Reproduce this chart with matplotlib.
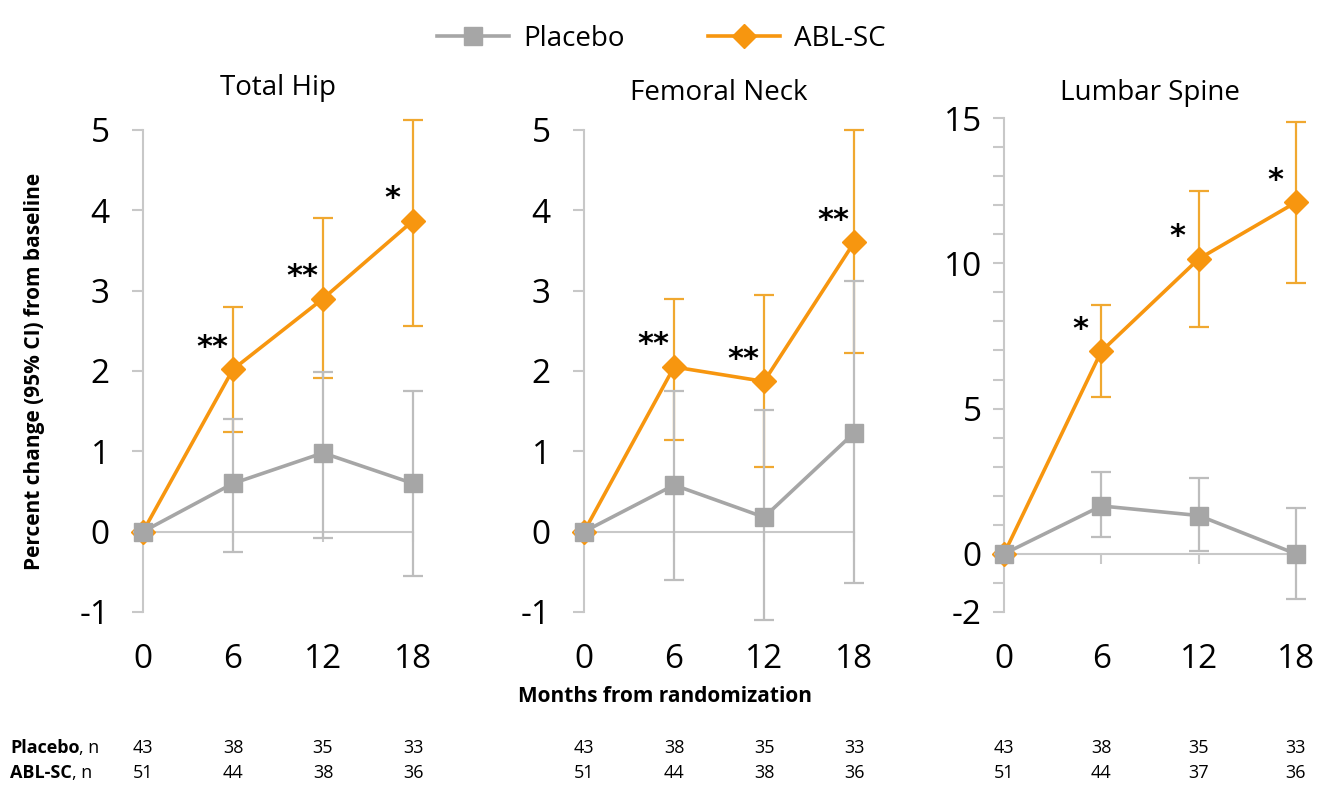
"""
Percent change in BMD from baseline: Placebo vs ABL-SC, three sites.
"""
import numpy as np
import matplotlib
matplotlib.use('Agg')
import matplotlib.pyplot as plt
from matplotlib.ticker import FixedLocator, MultipleLocator
from matplotlib.transforms import blended_transform_factory

plt.rcParams['font.family'] = ['Open Sans', 'DejaVu Sans']
plt.rcParams['axes.unicode_minus'] = False

# =============================================================================
# Data
# =============================================================================
months = [0, 6, 12, 18]
sites = ['Total Hip', 'Femoral Neck', 'Lumbar Spine']

# Placebo: mean, lower CI, upper CI
placebo_hip = [0.0, 0.60, 0.98, 0.60]
placebo_hip_lo = [0.0, -0.25, -0.08, -0.55]
placebo_hip_hi = [0.0, 1.40, 1.99, 1.75]
placebo_neck = [0.0, 0.58, 0.18, 1.23]
placebo_neck_lo = [0.0, -0.60, -1.10, -0.64]
placebo_neck_hi = [0.0, 1.75, 1.51, 3.12]
placebo_spine = [0.0, 1.65, 1.32, 0.0]
placebo_spine_lo = [0.0, 0.57, 0.11, -1.55]
placebo_spine_hi = [0.0, 2.81, 2.62, 1.59]

# ABL-SC: mean, lower CI, upper CI
abl_hip = [0.0, 2.02, 2.90, 3.87]
abl_hip_lo = [0.0, 1.24, 1.91, 2.56]
abl_hip_hi = [0.0, 2.80, 3.90, 5.12]
abl_neck = [0.0, 2.05, 1.87, 3.60]
abl_neck_lo = [0.0, 1.14, 0.80, 2.23]
abl_neck_hi = [0.0, 2.90, 2.95, 5.00]
abl_spine = [0.0, 6.97, 10.15, 12.10]
abl_spine_lo = [0.0, 5.39, 7.81, 9.31]
abl_spine_hi = [0.0, 8.56, 12.48, 14.86]

# significance stars above ABL-SC points
stars_hip = ['', '**', '**', '*']
stars_neck = ['', '**', '**', '**']
stars_spine = ['', '*', '*', '*']

# numbers at risk
n_placebo_hip = [43, 38, 35, 33]
n_abl_hip = [51, 44, 38, 36]
n_placebo_neck = [43, 38, 35, 33]
n_abl_neck = [51, 44, 38, 36]
n_placebo_spine = [43, 38, 35, 33]
n_abl_spine = [51, 44, 37, 36]

# =============================================================================
# Style
# =============================================================================
ORANGE = '#F7960F'
ORANGE_ERR = '#F0A830'
GRAY = '#A6A6A6'
GRAY_ERR = '#BDBDBD'
AXIS_GRAY = '#C8C8C8'
TABLE_FONT = ['Liberation Sans Narrow', 'Open Sans']

fig = plt.figure(figsize=(13.31, 7.91), dpi=100)

panels = [
    dict(pos=[0.1074, 0.2263, 0.2029, 0.6094], ylim=(-1, 5), yticks=[-1, 0, 1, 2, 3, 4, 5],
         minor=None, title_y=0.889, pad=16,
         pl=(placebo_hip, placebo_hip_lo, placebo_hip_hi),
         ab=(abl_hip, abl_hip_lo, abl_hip_hi), stars=stars_hip,
         n=(n_placebo_hip, n_abl_hip)),
    dict(pos=[0.4388, 0.2263, 0.2029, 0.6094], ylim=(-1, 5), yticks=[-1, 0, 1, 2, 3, 4, 5],
         minor=None, title_y=0.882, pad=16,
         pl=(placebo_neck, placebo_neck_lo, placebo_neck_hi),
         ab=(abl_neck, abl_neck_lo, abl_neck_hi), stars=stars_neck,
         n=(n_placebo_neck, n_abl_neck)),
    dict(pos=[0.7543, 0.2263, 0.2194, 0.6245], ylim=(-2, 15), yticks=[-2, 0, 5, 10, 15],
         minor=1, title_y=0.882, pad=8,
         pl=(placebo_spine, placebo_spine_lo, placebo_spine_hi),
         ab=(abl_spine, abl_spine_lo, abl_spine_hi), stars=stars_spine,
         n=(n_placebo_spine, n_abl_spine)),
]

handles = []
for site, p in zip(sites, panels):
    ax = fig.add_axes(p['pos'])
    ax.set_xlim(0, 18)
    ax.set_ylim(*p['ylim'])

    # ABL-SC first, placebo drawn on top
    m, lo, hi = (np.array(v) for v in p['ab'])
    h_abl = ax.errorbar(months, m, yerr=[m - lo, hi - m], color=ORANGE, lw=2.6,
                        marker='D', ms=12, mec=ORANGE, mfc=ORANGE,
                        ecolor=ORANGE_ERR, elinewidth=1.6, capsize=7, capthick=1.6,
                        clip_on=False, zorder=3, label='ABL-SC')
    m, lo, hi = (np.array(v) for v in p['pl'])
    h_pl = ax.errorbar(months, m, yerr=[m - lo, hi - m], color=GRAY, lw=2.6,
                       marker='s', ms=13, mec=GRAY, mfc=GRAY,
                       ecolor=GRAY_ERR, elinewidth=1.6, capsize=7, capthick=1.6,
                       clip_on=False, zorder=4, label='Placebo')
    for c in list(h_abl[1]) + list(h_abl[2]) + list(h_pl[1]) + list(h_pl[2]):
        c.set_clip_on(False)
    if not handles:
        handles = [h_pl[0], h_abl[0]]

    # stars
    for x, v, s in zip(months, p['ab'][0], p['stars']):
        if s:
            ax.annotate(s, (x, v), xytext=(-15, 16), textcoords='offset points',
                        ha='center', va='center', fontsize=22, fontweight='bold',
                        color='black', family='DejaVu Sans')

    # spines: y axis on left, x axis line at zero
    ax.spines['top'].set_visible(False)
    ax.spines['right'].set_visible(False)
    ax.spines['left'].set_color(AXIS_GRAY)
    ax.spines['left'].set_linewidth(1.5)
    ax.spines['bottom'].set_position(('data', 0))
    ax.spines['bottom'].set_color(AXIS_GRAY)
    ax.spines['bottom'].set_linewidth(1.5)
    ax.spines['bottom'].set_zorder(1)

    ax.yaxis.set_major_locator(FixedLocator(p['yticks']))
    if p['minor']:
        ax.yaxis.set_minor_locator(MultipleLocator(p['minor']))
    ax.tick_params(axis='y', which='both', length=8, width=1.5, color=AXIS_GRAY,
                   labelsize=24, pad=p['pad'])
    ax.set_xticks(months)
    ax.tick_params(axis='x', length=7, width=1.5, color=AXIS_GRAY, labelbottom=False)

    sec = ax.secondary_xaxis(0)
    sec.set_xticks(months)
    sec.spines['bottom'].set_visible(False)
    sec.tick_params(length=0, labelsize=24, pad=22)

    tr = blended_transform_factory(ax.transAxes, fig.transFigure)
    ax.text(0.5, p['title_y'], site, transform=tr, ha='center', va='center', fontsize=20)

    # numbers at risk under each panel
    trn = blended_transform_factory(ax.transData, fig.transFigure)
    for x, a, b in zip(months, p['n'][0], p['n'][1]):
        ax.text(x, 0.0544, str(a), transform=trn, ha='center', va='center',
                fontsize=13, family=TABLE_FONT)
        ax.text(x, 0.0228, str(b), transform=trn, ha='center', va='center',
                fontsize=13, family=TABLE_FONT)

# row labels of the table
for y, name in [(0.0544, 'Placebo'), (0.0228, 'ABL-SC')]:
    t = fig.text(0.0075, y, name, ha='left', va='center', fontsize=13, fontweight='bold',
                 family=TABLE_FONT)
    plt.annotate(', n', xy=(1, 0.5), xycoords=t, ha='left', va='center', fontsize=13,
                 family=TABLE_FONT)

fig.text(0.026, 0.53, 'Percent change (95% CI) from baseline', rotation=90,
         ha='center', va='center', fontsize=15, fontweight='bold')
fig.text(0.5, 0.119, 'Months from randomization', ha='center', va='center',
         fontsize=15, fontweight='bold')

fig.legend(handles, ['Placebo', 'ABL-SC'], loc='upper center', bbox_to_anchor=(0.497, 1.0),
           ncol=2, frameon=False, fontsize=20, handlelength=2.6, columnspacing=3.0,
           handletextpad=0.5)

fig.savefig('out.png', dpi=100)
